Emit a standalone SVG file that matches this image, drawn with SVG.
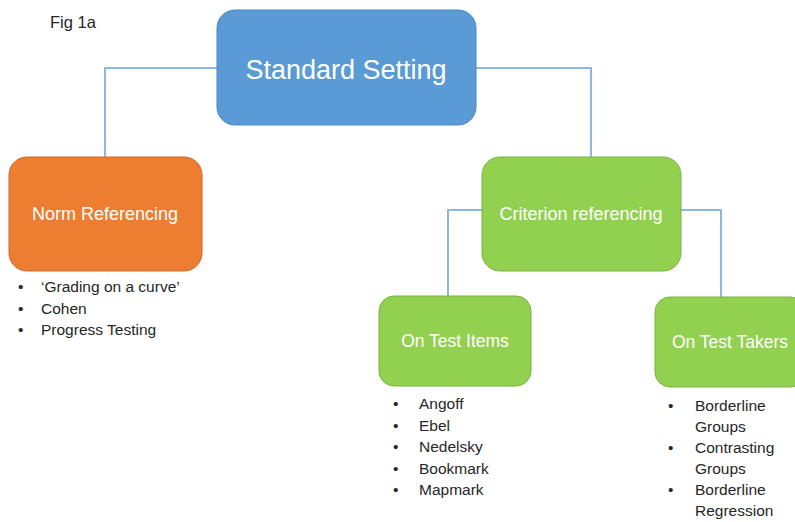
<svg xmlns="http://www.w3.org/2000/svg" width="795" height="522" viewBox="0 0 795 522">
<style>
.lbl{font-family:"Liberation Sans",Arial,sans-serif;fill:#ffffff;text-anchor:middle}
.bul{font-family:"Liberation Sans",Arial,sans-serif;font-size:15.5px;fill:#262626}
.conn{fill:none;stroke:#8DB8E3;stroke-width:2}
.blue{fill:#5B9BD5;stroke:#4A86BE;stroke-width:1}
.orange{fill:#ED7D31;stroke:#C9692A;stroke-width:1}
.green{fill:#92D050;stroke:#7DB043;stroke-width:1}
</style>
<rect width="795" height="522" fill="#ffffff"/>
<text x="50" y="28" font-family="Liberation Sans,Arial,sans-serif" font-size="16.5" fill="#262626">Fig 1a</text>
<g id="connectors">
<polyline class="conn" points="217,68 105,68 105,157"/>
<polyline class="conn" points="476,68 591,68 591,157"/>
<polyline class="conn" points="482,210 448,210 448,296"/>
<polyline class="conn" points="681,210 721,210 721,297"/>
</g>
<g id="standard-setting">
<rect class="blue" x="217" y="10" width="259" height="115" rx="18"/>
<text class="lbl" x="346" y="79" font-size="27">Standard Setting</text>
</g>
<g id="norm-referencing">
<rect class="orange" x="9" y="157" width="193" height="114" rx="18"/>
<text class="lbl" x="105" y="220" font-size="18">Norm Referencing</text>
<text class="bul" x="18" y="292">•</text><text class="bul" x="41" y="292">‘Grading on a curve’</text>
<text class="bul" x="18" y="314">•</text><text class="bul" x="41" y="314">Cohen</text>
<text class="bul" x="18" y="335">•</text><text class="bul" x="41" y="335">Progress Testing</text>
</g>
<g id="criterion-referencing">
<rect class="green" x="482" y="157" width="199" height="114" rx="18"/>
<text class="lbl" x="581" y="220" font-size="18">Criterion referencing</text>
</g>
<g id="on-test-items">
<rect class="green" x="379" y="296" width="152" height="90" rx="15"/>
<text class="lbl" x="455" y="347" font-size="17.5">On Test Items</text>
<text class="bul" x="393" y="409">•</text><text class="bul" x="419" y="409">Angoff</text>
<text class="bul" x="393" y="431">•</text><text class="bul" x="419" y="431">Ebel</text>
<text class="bul" x="393" y="452">•</text><text class="bul" x="419" y="452">Nedelsky</text>
<text class="bul" x="393" y="474">•</text><text class="bul" x="419" y="474">Bookmark</text>
<text class="bul" x="393" y="495">•</text><text class="bul" x="419" y="495">Mapmark</text>
</g>
<g id="on-test-takers">
<rect class="green" x="655" y="297" width="150" height="90" rx="15"/>
<text class="lbl" x="730" y="348" font-size="17.5">On Test Takers</text>
<text class="bul" x="668" y="411">•</text><text class="bul" x="695" y="411">Borderline</text>
<text class="bul" x="695" y="432">Groups</text>
<text class="bul" x="668" y="453">•</text><text class="bul" x="695" y="453">Contrasting</text>
<text class="bul" x="695" y="474">Groups</text>
<text class="bul" x="668" y="495">•</text><text class="bul" x="695" y="495">Borderline</text>
<text class="bul" x="695" y="516">Regression</text>
</g>
</svg>
